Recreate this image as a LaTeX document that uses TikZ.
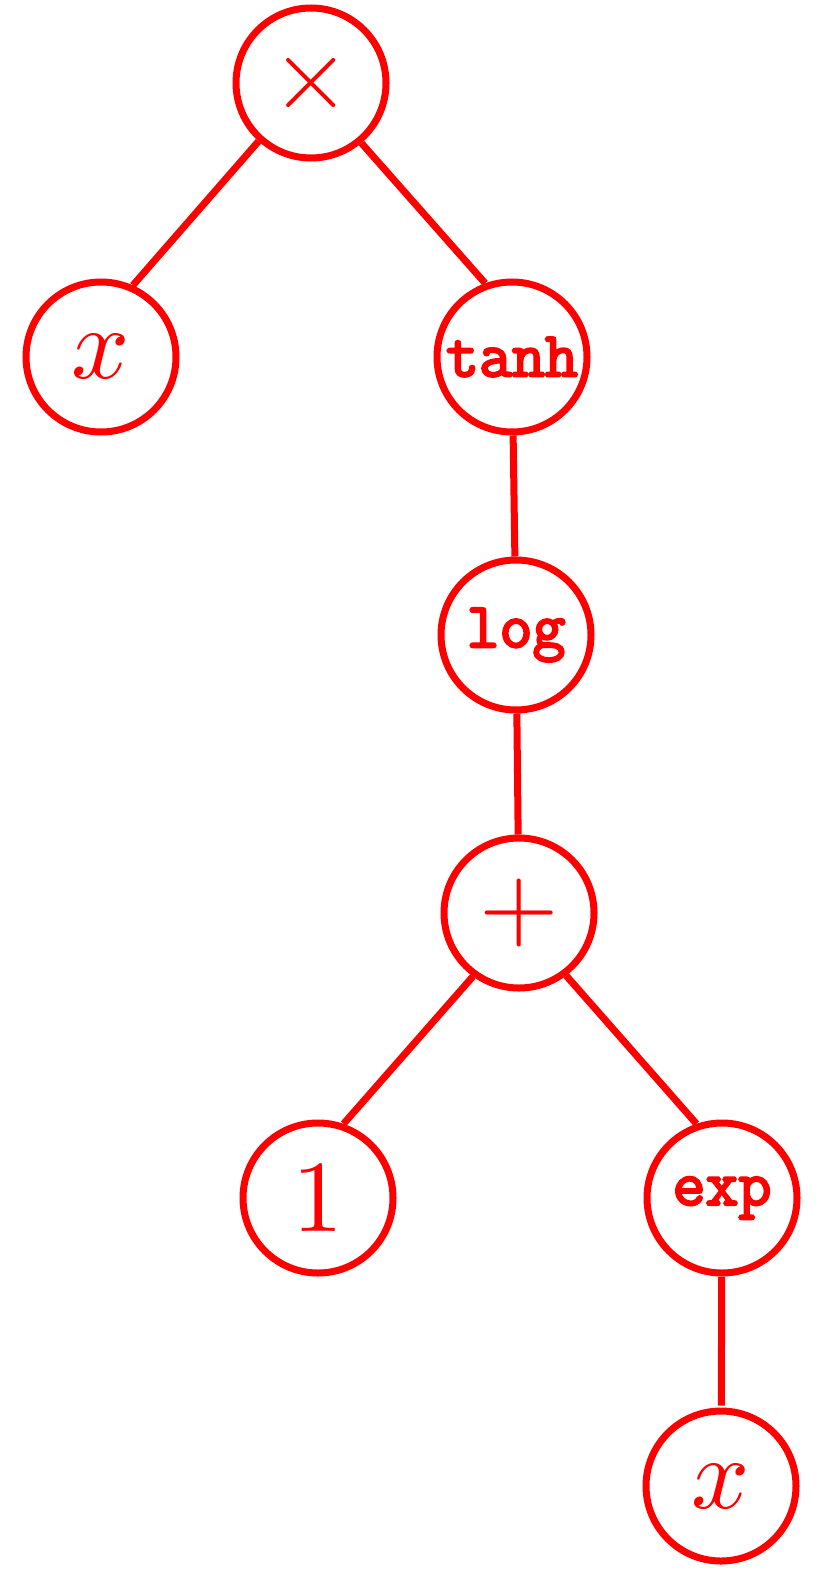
\documentclass[tikz,border=0pt]{standalone}
\usepackage{unicode-math}
\setmathfont{Latin Modern Math}
\newfontfamily\codefont[FakeBold=3.5]{Latin Modern Mono}
\begin{document}
\begin{tikzpicture}[x=1pt,y=-1pt,
  tnode/.style={circle,draw=red,line width=7pt,minimum size=150pt,inner sep=0pt,text=red},
  mathlab/.style={font=\fontsize{102}{102}\selectfont},
  codelab/.style={font=\codefont\fontsize{64}{64}\selectfont},
  edge/.style={draw=red,line width=7pt}]
\useasboundingbox (0,0) rectangle (830,1570);
\node[tnode,mathlab] (times) at (311,83) {$\times$};
\node[tnode,mathlab] (xa) at (101,357) {$x$};
\node[tnode,codelab] (tanh) at (512,357) {tanh};
\node[tnode,codelab] (log) at (516,635) {log};
\node[tnode,mathlab] (plus) at (519,913) {$+$};
\node[tnode,mathlab] (one) at (318,1198) {$1$};
\node[tnode,codelab] (exp) at (722,1198) {exp};
\node[tnode,mathlab] (xb) at (721,1486) {$x$};
\draw[edge] (times.228) -- (xa.66);
\draw[edge] (times.310) -- (tanh.110);
\draw[edge] (tanh) -- (log);
\draw[edge] (log) -- (plus);
\draw[edge] (plus.234) -- (one.71);
\draw[edge] (plus.307) -- (exp.109);
\draw[edge,shorten >=2pt] (exp) -- (xb);
\end{tikzpicture}
\end{document}
